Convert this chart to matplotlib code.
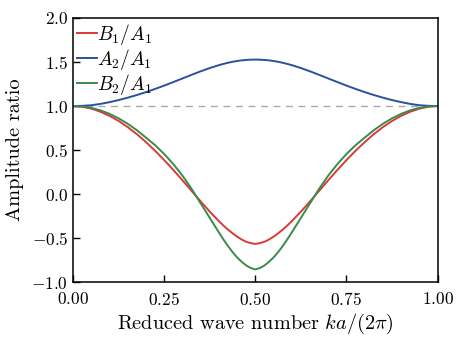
import matplotlib
matplotlib.use("Agg")
import matplotlib.pyplot as plt

plt.rcParams['font.family'] = 'serif'
plt.rcParams['font.serif'] = ['cmr10']
plt.rcParams['mathtext.fontset'] = 'cm'
plt.rcParams['axes.formatter.use_mathtext'] = True

k = [0.000, 0.025, 0.050, 0.075, 0.100, 0.125, 0.150, 0.175, 0.200, 0.225,
     0.250, 0.275, 0.300, 0.325, 0.350, 0.375, 0.400, 0.4125, 0.425, 0.4375,
     0.450, 0.4625, 0.475, 0.4875, 0.500, 0.5125, 0.525, 0.5375, 0.550, 0.5625,
     0.575, 0.5875, 0.600, 0.625, 0.650, 0.675, 0.700, 0.725,
     0.750, 0.775, 0.800, 0.825, 0.850, 0.875, 0.900, 0.925, 0.950, 0.975, 1.000]

b1_a1 = [1.000, 0.992, 0.970, 0.935, 0.888, 0.830, 0.760, 0.680, 0.590, 0.492,
         0.386, 0.274, 0.157, 0.037, -0.083, -0.199, -0.307, -0.357, -0.403, -0.445,
         -0.483, -0.515, -0.541, -0.556, -0.565, -0.556, -0.541, -0.515, -0.483, -0.445,
         -0.403, -0.357, -0.307, -0.199, -0.083, 0.037, 0.157, 0.274,
         0.386, 0.492, 0.590, 0.680, 0.760, 0.830, 0.888, 0.935, 0.970, 0.992, 1.000]

a2_a1 = [1.000, 1.002, 1.009, 1.024, 1.044, 1.068, 1.095, 1.125, 1.158, 1.194,
         1.232, 1.272, 1.313, 1.354, 1.394, 1.431, 1.464, 1.478, 1.491, 1.502,
         1.511, 1.518, 1.523, 1.526, 1.527, 1.526, 1.523, 1.518, 1.511, 1.502,
         1.491, 1.478, 1.464, 1.431, 1.394, 1.354, 1.313, 1.272,
         1.232, 1.194, 1.158, 1.125, 1.095, 1.068, 1.044, 1.024, 1.009, 1.002, 1.000]

b2_a1 = [1.000, 0.995, 0.979, 0.951, 0.911, 0.860, 0.798, 0.725, 0.641, 0.555,
         0.455, 0.340, 0.210, 0.060, -0.105, -0.270, -0.435, -0.515, -0.590, -0.658,
         -0.718, -0.768, -0.810, -0.839, -0.855, -0.839, -0.810, -0.768, -0.718, -0.658,
         -0.590, -0.515, -0.435, -0.270, -0.105, 0.060, 0.210, 0.340,
         0.455, 0.555, 0.641, 0.725, 0.798, 0.860, 0.911, 0.951, 0.979, 0.995, 1.000]

labels = [r'$B_1/A_1$', r'$A_2/A_1$', r'$B_2/A_1$']
colors = ['#d83a3a', '#2b509e', '#3a8a4c']

fig = plt.figure(figsize=(4.63, 3.38), dpi=100)
ax = fig.add_axes([0.158, 0.165, 0.787, 0.782])

ax.axhline(1.0, color='#aaaaaa', lw=1.0, ls=(0, (5, 4)), zorder=1)
for y, lab, c in zip([b1_a1, a2_a1, b2_a1], labels, colors):
    ax.plot(k, y, color=c, lw=1.4, label=lab, zorder=2,
            solid_joinstyle='round')

ax.set_xlim(0, 1)
ax.set_ylim(-1, 2)
ax.set_xticks([0, 0.25, 0.5, 0.75, 1.0])
ax.set_yticks([-1.0, -0.5, 0.0, 0.5, 1.0, 1.5, 2.0])
ax.tick_params(direction='in', length=5, width=1, labelsize=12.5,
               top=False, right=False)
ax.tick_params(axis='x', pad=6)
for s in ax.spines.values():
    s.set_linewidth(1.1)

ax.set_xlabel(r'Reduced wave number $ka/(2\pi)$', fontsize=14.6, labelpad=3)
ax.set_ylabel('Amplitude ratio', fontsize=14.6, labelpad=5)

leg = ax.legend(loc='upper left', frameon=False, fontsize=14, handlelength=1.05,
                handletextpad=0.0, labelspacing=0.0, borderaxespad=0.1,
                borderpad=0.1)

fig.savefig('out.png', dpi=100)
